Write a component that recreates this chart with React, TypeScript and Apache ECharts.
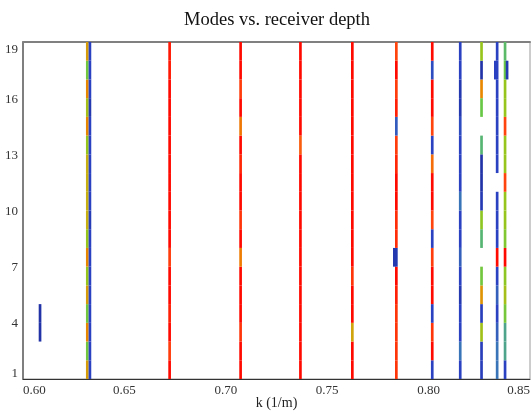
import React, { useEffect, useRef } from "react";
import * as echarts from "echarts";

// Mode wavenumbers (k, 1/m); each mode is drawn as a thin column of cells
const modeK = [
  0.6084, 0.6317, 0.633, 0.6723, 0.7073, 0.7368, 0.7624, 0.7831, 0.7841,
  0.8018, 0.8156, 0.8261, 0.8329, 0.8338, 0.8377, 0.8387,
];

// Receiver depth rows (cell spans depth d .. d+1)
const depths = [1, 2, 3, 4, 5, 6, 7, 8, 9, 10, 11, 12, 13, 14, 15, 16, 17, 18];

// Colour codes per mode, listed by depth 1..18 (null = no value)
const n = null;
const modeCodes: (number | null)[][] = [
  [n, n, 0.3, 0.3, n, n, n, n, n, n, n, n, n, n, n, n, n, n],
  [6.5, 4.2, 7, 4.2, 6.5, 5, 7, 5, 6, 6, 6, 6, 5, 7, 5.3, 7, 4.2, 6.5],
  [1, 1, 1, 1, 1, 1, 1, 1, 0.7, 1, 1, 1, 1, 1, 0.5, 1, 1, 1],
  [9, 8.3, 9, 8.7, 9, 9, 8.3, 9, 9, 9, 9, 9, 9, 9, 9, 9, 8.8, 8.8],
  [9, 9, 8.4, 9, 9, 9, 7.2, 9, 8.4, 9, 9, 8.6, 9, 7.3, 9, 8.3, 9, 9],
  [9, 9, 9, 9, 9, 9, 9, 9, 9, 9, 9, 9, 7.8, 9, 9, 9, 9, 9],
  [9, 9, 6.3, 9, 9, 8.4, 9, 9, 9, 9, 9, 9, 9, 9, 9, 9, 9, 9],
  [n, n, n, n, n, n, 0.5, n, n, n, n, n, n, n, n, n, n, n],
  [8.4, 8.4, 8.4, 8.4, 8.7, 9, 0.5, 8.5, 8.5, 9, 9, 8.6, 8.3, 1.5, 8.7, 8.3, 9, 8.2],
  [1, 9, 8.4, 1, 9, 9, 8.3, 1, 8.2, 9, 9, 7.5, 1, 8.2, 9, 9, 1.2, 9],
  [1, 2, 1, 1, 0.5, 1, 1.6, 1, 1, 2, 1, 1, 1, 1.2, 0.5, 0.5, 1, 1],
  [0.8, 0.8, 5.2, 0.8, 6.7, 4.2, n, 3.2, 4.8, 0.6, 0.3, 0.3, 3.2, n, 4, 7, 0.3, 5],
  [n, n, n, n, n, n, n, n, n, n, n, n, n, n, n, n, 1, n],
  [2, 2, 1.6, 1, 1.6, 1, 9, 1, 1, 1, n, 1, 1, 1, 1, 1, 1, 1],
  [1, 2.8, 2.8, 4.3, 5.3, 4.8, 9, 4.5, 5, 5, 8.2, 5, 5, 8.2, 5, 5, 4, 3.4],
  [n, n, n, n, n, n, n, n, n, n, n, n, n, n, n, n, 0.5, n],
];

const xTicks = [0.6, 0.65, 0.7, 0.75, 0.8, 0.85];
const yTicks = [1, 4, 7, 10, 13, 16, 19];

const palette = [
  "#1e2d9c",
  "#2a42c2",
  "#3a74b8",
  "#52b07e",
  "#68c846",
  "#98c51c",
  "#c6b012",
  "#e88800",
  "#ff5210",
  "#ff0a00",
];

const SERIF = "'Liberation Serif', 'DejaVu Serif', serif";
const HALF_W = 0.00066;

export default function App() {
  const ref = useRef<HTMLDivElement>(null);
  useEffect(() => {
    if (!ref.current) return;
    const chart = echarts.init(ref.current, undefined, { renderer: "svg" });
    const data: number[][] = [];
    modeK.forEach((k, i) => {
      modeCodes[i].forEach((c, j) => {
        if (c !== null) data.push([k, depths[j], c]);
      });
    });
    chart.setOption({
      animation: false,
      graphic: [
        {
          type: "text",
          x: 277,
          y: 19,
          style: {
            text: "Modes vs. receiver depth",
            align: "center",
            verticalAlign: "middle",
            fontFamily: SERIF,
            fontSize: 18.5,
            fill: "#111",
          },
        },
      ],
      grid: {
        left: 23,
        right: 1,
        top: 42,
        bottom: 33,
        outerBoundsMode: "none",
        containLabel: false,
        show: true,
        borderColor: "#9a9a9a",
        borderWidth: 1,
      },
      visualMap: {
        show: false,
        type: "continuous",
        min: 0,
        max: 9,
        dimension: 2,
        seriesIndex: 0,
        inRange: { color: palette },
      },
      xAxis: [
        {
          type: "value",
          min: xTicks[0],
          max: xTicks[xTicks.length - 1],
          interval: 0.05,
          name: "k (1/m)",
          nameLocation: "middle",
          nameGap: 16,
          nameMoveOverlap: false,
          nameTextStyle: { fontFamily: SERIF, fontSize: 14, color: "#222" },
          axisLine: { lineStyle: { color: "#333", width: 1 } },
          axisTick: { show: false },
          splitLine: { show: false },
          axisLabel: {
            fontFamily: SERIF,
            fontSize: 13,
            color: "#333",
            margin: 4,
            alignMinLabel: "left",
            alignMaxLabel: "right",
            formatter: (v: number) => v.toFixed(2),
          },
        },
        {
          type: "value",
          position: "top",
          min: xTicks[0],
          max: xTicks[xTicks.length - 1],
          axisLine: { show: true, lineStyle: { color: "#808080", width: 2 } },
          axisTick: { show: false },
          axisLabel: { show: false },
          splitLine: { show: false },
        },
      ],
      yAxis: {
        type: "value",
        min: 1,
        max: 19,
        interval: 1,
        axisLine: { show: true, lineStyle: { color: "#666", width: 1.5 } },
        axisTick: { show: false },
        splitLine: { show: false },
        axisLabel: {
          fontFamily: SERIF,
          fontSize: 13,
          color: "#333",
          margin: 5,
          verticalAlignMinLabel: "bottom",
          verticalAlignMaxLabel: "top",
          formatter: (v: number) => (yTicks.includes(v) ? String(v) : ""),
        },
      },
      series: [
        {
          type: "custom",
          xAxisIndex: 0,
          encode: { x: 0, y: 1 },
          data,
          renderItem: (params: any, api: any) => {
            const k = api.value(0);
            const d = api.value(1);
            const p0 = api.coord([k - HALF_W, d + 1]);
            const p1 = api.coord([k + HALF_W, d]);
            return {
              type: "rect",
              shape: {
                x: p0[0],
                y: p0[1],
                width: p1[0] - p0[0],
                height: p1[1] - p0[1],
              },
              style: { fill: api.visual("color") },
            };
          },
        },
      ],
    });
    return () => chart.dispose();
  }, []);
  return (
    <div
      ref={ref}
      style={{ position: "fixed", left: 0, top: 0, width: 531, height: 412 }}
    />
  );
}
